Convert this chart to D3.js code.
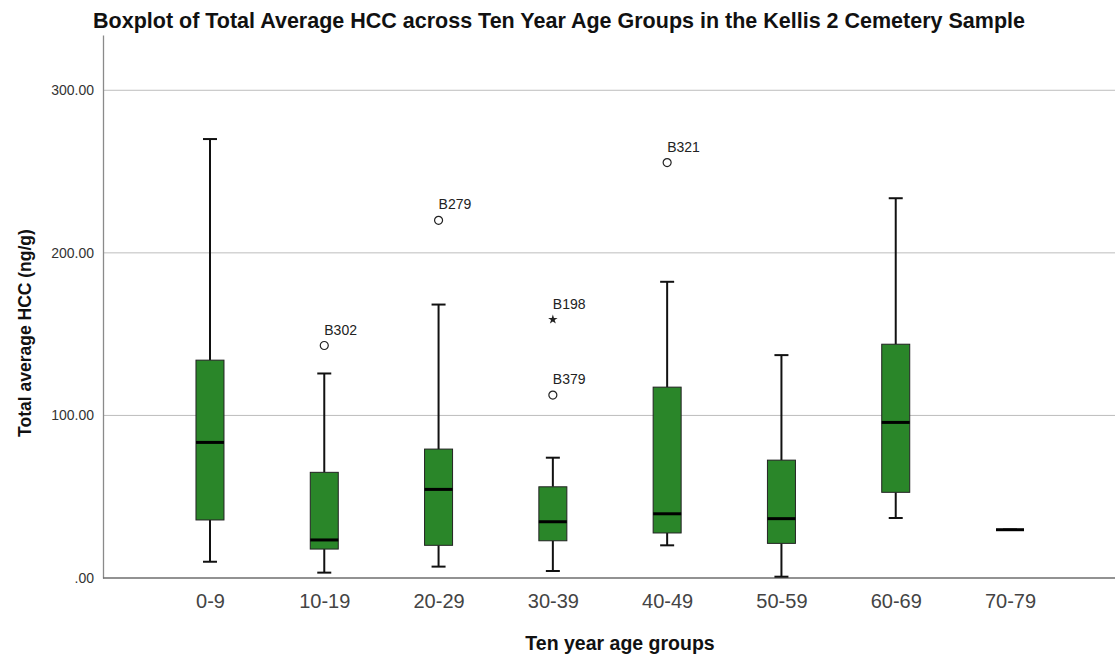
<!DOCTYPE html>
<html>
<head>
<meta charset="utf-8">
<script src="https://cdn.jsdelivr.net/npm/d3@7"></script>
<style>
  body { margin: 0; background: #fff; }
  svg { display: block; font-family: "Liberation Sans", Arial, sans-serif; }
</style>
</head>
<body>
<svg id="chart" width="1115" height="658"></svg>
<script>
// Age groups and five-number summaries of total average HCC (ng/g)
const categories  = ["0-9", "10-19", "20-29", "30-39", "40-49", "50-59", "60-69", "70-79"];
const whiskerLow  = [10.0, 3.3, 7.0, 4.3, 20.1, 0.8, 36.9, 29.7];
const q1          = [35.7, 17.8, 20.1, 22.9, 27.7, 21.3, 52.7, 29.7];
const medians     = [83.4, 23.4, 54.5, 34.6, 39.5, 36.5, 95.7, 29.7];
const q3          = [134.0, 65.0, 79.3, 56.1, 117.4, 72.5, 143.8, 29.7];
const whiskerHigh = [270.0, 125.8, 168.2, 74.0, 182.2, 137.1, 233.6, 29.7];

// Outlying cases (circle) and extreme cases (star), labelled by burial
const outlierGroups = ["10-19", "20-29", "30-39", "30-39", "40-49"];
const outlierValues = [143.0, 220.0, 159.0, 112.5, 255.5];
const outlierLabels = ["B302", "B279", "B198", "B379", "B321"];
const outlierKinds  = ["circle", "circle", "star", "circle", "circle"];

const yTicks = [0, 100, 200, 300];

const svg = d3.select("#chart");
const plotLeft = 103, plotRight = 1115, plotTop = 35, plotBottom = 578;

const x = d3.scalePoint().domain(categories).range([plotLeft, 1117]).padding(0.936);
const y = d3.scaleLinear().domain([0, 334]).range([plotBottom, plotTop]);

const boxW = 28, capW = 14;
const green = "#2a8629";

// Horizontal grid lines
svg.append("g").selectAll("line")
  .data(yTicks.filter(d => d > 0))
  .join("line")
  .attr("x1", plotLeft).attr("x2", plotRight)
  .attr("y1", d => y(d)).attr("y2", d => y(d))
  .attr("stroke", "#bdbdbd").attr("stroke-width", 1);

// Y axis
const yAxis = d3.axisLeft(y).tickValues(yTicks).tickSize(0).tickPadding(9)
  .tickFormat(d => d === 0 ? ".00" : d3.format(".2f")(d));
const gy = svg.append("g").attr("transform", `translate(${plotLeft},0)`).call(yAxis);
gy.select(".domain").attr("stroke", "#8a8a8a").attr("stroke-width", 1.3);
gy.selectAll("text").attr("font-size", 14).attr("fill", "#333");

// X axis
const xAxis = d3.axisBottom(x).tickSize(0).tickPadding(16);
const gx = svg.append("g").attr("transform", `translate(0,${plotBottom})`).call(xAxis);
gx.select(".domain").attr("stroke", "#6e6e6e").attr("stroke-width", 1.3)
  .attr("d", `M${plotLeft},0H${plotRight}`);
gx.selectAll("text").attr("font-size", 20).attr("fill", "#444");

// Box plots
const rows = categories.map((c, i) => ({
  c, lo: whiskerLow[i], q1: q1[i], med: medians[i], q3: q3[i], hi: whiskerHigh[i]
}));

const g = svg.append("g").selectAll("g").data(rows).join("g")
  .attr("transform", d => `translate(${x(d.c)},0)`);

g.append("line").attr("x1", 0).attr("x2", 0)
  .attr("y1", d => y(d.hi)).attr("y2", d => y(d.q3))
  .attr("stroke", "#111").attr("stroke-width", 2);
g.append("line").attr("x1", 0).attr("x2", 0)
  .attr("y1", d => y(d.q1)).attr("y2", d => y(d.lo))
  .attr("stroke", "#111").attr("stroke-width", 2);
g.append("line").attr("x1", -capW / 2).attr("x2", capW / 2)
  .attr("y1", d => y(d.hi)).attr("y2", d => y(d.hi))
  .attr("stroke", "#111").attr("stroke-width", 2);
g.append("line").attr("x1", -capW / 2).attr("x2", capW / 2)
  .attr("y1", d => y(d.lo)).attr("y2", d => y(d.lo))
  .attr("stroke", "#111").attr("stroke-width", 2);
g.filter(d => d.q3 > d.q1).append("rect")
  .attr("x", -boxW / 2).attr("width", boxW)
  .attr("y", d => y(d.q3)).attr("height", d => y(d.q1) - y(d.q3))
  .attr("fill", green).attr("stroke", "#222").attr("stroke-width", 1);
g.append("line").attr("x1", -boxW / 2).attr("x2", boxW / 2)
  .attr("y1", d => y(d.med)).attr("y2", d => y(d.med))
  .attr("stroke", "#000").attr("stroke-width", 3);

// Outliers
const outliers = outlierValues.map((v, i) => ({
  c: outlierGroups[i], v, label: outlierLabels[i], kind: outlierKinds[i]
}));
const og = svg.append("g").selectAll("g").data(outliers).join("g")
  .attr("transform", d => `translate(${x(d.c)},${y(d.v)})`);
og.filter(d => d.kind === "circle").append("circle")
  .attr("r", 4).attr("fill", "#fff").attr("stroke", "#222").attr("stroke-width", 1.2);
og.filter(d => d.kind === "star").append("path")
  .attr("d", d3.symbol().type(d3.symbolStar).size(28))
  .attr("fill", "#222");
og.append("text")
  .attr("x", 0).attr("y", -11)
  .attr("font-size", 14).attr("fill", "#222")
  .text(d => d.label);

// Titles
svg.append("text").attr("x", 559).attr("y", 28).attr("text-anchor", "middle")
  .attr("font-size", 21.5).attr("font-weight", "bold").attr("fill", "#111")
  .text("Boxplot of Total Average HCC across Ten Year Age Groups in the Kellis 2 Cemetery Sample");
svg.append("text").attr("x", 620).attr("y", 650).attr("text-anchor", "middle")
  .attr("font-size", 19.5).attr("font-weight", "bold").attr("fill", "#111")
  .text("Ten year age groups");
svg.append("text").attr("transform", "translate(31,333) rotate(-90)").attr("text-anchor", "middle")
  .attr("font-size", 17.5).attr("font-weight", "bold").attr("fill", "#111")
  .text("Total average HCC (ng/g)");
</script>
</body>
</html>
